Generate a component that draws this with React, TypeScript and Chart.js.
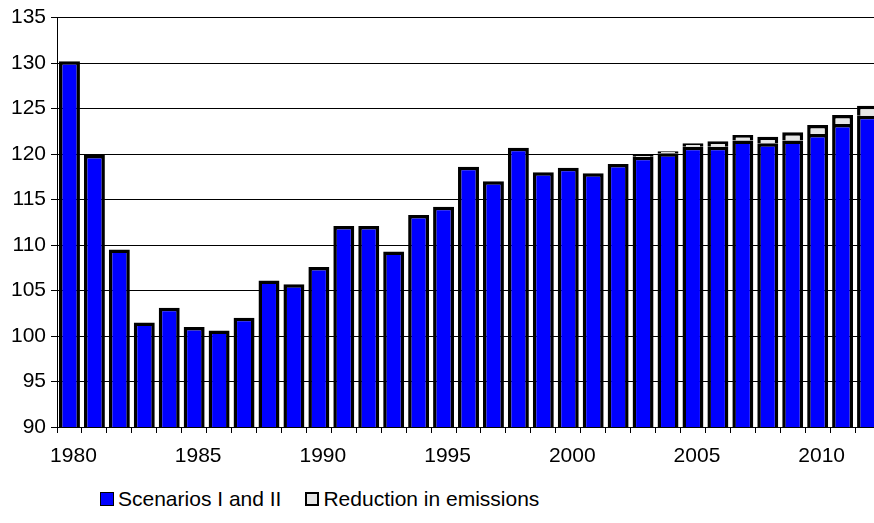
import React, { useEffect, useRef } from 'react';
import { Chart, registerables } from 'chart.js';

Chart.register(...registerables);

// Years on the category axis
const years = [
  '1980', '1981', '1982', '1983', '1984', '1985', '1986', '1987', '1988', '1989',
  '1990', '1991', '1992', '1993', '1994', '1995', '1996', '1997', '1998', '1999',
  '2000', '2001', '2002', '2003', '2004', '2005', '2006', '2007', '2008', '2009',
  '2010', '2011', '2012',
];

// Base series (blue bars)
const scenarioValues = [
  130.2, 119.9, 109.5, 101.5, 103.1, 101.0, 100.6, 102.0, 106.1, 105.7,
  107.6, 112.1, 112.1, 109.3, 113.3, 114.2, 118.6, 117.0, 120.7, 118.0,
  118.5, 117.9, 118.9, 119.7, 120.1, 120.8, 120.8, 121.5, 121.2, 121.5,
  122.2, 123.3, 124.2,
];

// Stacked on top of the base series (light grey caps)
const reductionValues = [
  0, 0, 0, 0, 0, 0, 0, 0, 0, 0,
  0, 0, 0, 0, 0, 0, 0, 0, 0, 0,
  0, 0, 0, 0.2, 0.2, 0.4, 0.6, 0.6, 0.7, 0.9,
  1.0, 1.0, 1.1,
];

const seriesNames = ['Scenarios I and II', 'Reduction in emissions'];
const yMin = 90;
const yMax = 135;
const yStep = 5;

const FONT = '"Liberation Sans", Arial, Helvetica, sans-serif';
const BLUE = '#0000ff';
const GREY = '#e6e6e6';
const BAR_BORDER = 3.5;

export default function App() {
  const canvasRef = useRef<HTMLCanvasElement>(null);

  useEffect(() => {
    if (!canvasRef.current) return;
    const chart = new Chart(canvasRef.current, {
      type: 'bar',
      data: {
        labels: years,
        datasets: [
          {
            label: seriesNames[0],
            data: scenarioValues,
            backgroundColor: BLUE,
            borderColor: '#000',
            borderWidth: BAR_BORDER,
            borderSkipped: false,
            barPercentage: 0.84,
            categoryPercentage: 1,
          },
          {
            label: seriesNames[1],
            data: reductionValues,
            backgroundColor: GREY,
            borderColor: '#000',
            borderWidth: BAR_BORDER,
            borderSkipped: 'bottom',
            barPercentage: 0.84,
            categoryPercentage: 1,
          },
        ],
      },
      options: {
        responsive: false,
        animation: false,
        devicePixelRatio: 1,
        layout: { padding: { top: 17, right: 4, left: 0, bottom: 0 } },
        plugins: {
          legend: { display: false },
          tooltip: { enabled: false },
        },
        scales: {
          x: {
            stacked: true,
            grid: {
              display: true,
              drawOnChartArea: false,
              drawTicks: true,
              tickLength: 6,
              color: '#000',
              offset: true,
            },
            border: { display: true, color: '#000', width: 1 },
            ticks: {
              autoSkip: false,
              maxRotation: 0,
              minRotation: 0,
              labelOffset: 4,
              padding: 11,
              color: '#000',
              font: { family: FONT, size: 21 },
              callback: (_v: any, i: number) => (Number(years[i]) % 5 === 0 ? years[i] : ''),
            },
            afterFit: (s: any) => {
              s.height = 43;
            },
          },
          y: {
            stacked: true,
            min: yMin,
            max: yMax,
            ticks: {
              stepSize: yStep,
              padding: 5,
              color: '#000',
              font: { family: FONT, size: 21 },
            },
            grid: { color: '#000', lineWidth: 1, tickLength: 6 },
            border: { display: true, color: '#000', width: 1 },
            afterFit: (s: any) => {
              s.width = 57;
            },
          },
        },
      },
    });
    return () => chart.destroy();
  }, []);

  const boxBase: React.CSSProperties = {
    display: 'inline-block',
    boxSizing: 'border-box',
    width: 14,
    height: 14,
  };

  return (
    <div
      style={{
        position: 'absolute',
        left: 0,
        top: 0,
        width: 874,
        height: 523,
        overflow: 'hidden',
        background: '#fff',
      }}
    >
      <canvas
        ref={canvasRef}
        width={884}
        height={470}
        style={{ position: 'absolute', left: 0, top: 0, width: 884, height: 470 }}
      />
      <div
        style={{
          position: 'absolute',
          left: 100,
          top: 487,
          height: 24,
          display: 'flex',
          alignItems: 'center',
          font: `21px ${FONT}`,
          color: '#000',
          whiteSpace: 'nowrap',
        }}
      >
        <span style={{ ...boxBase, background: BLUE, border: '1px solid #000' }} />
        <span style={{ marginLeft: 4 }}>{seriesNames[0]}</span>
        <span style={{ ...boxBase, marginLeft: 24, background: GREY, border: '2px solid #000' }} />
        <span style={{ marginLeft: 4 }}>{seriesNames[1]}</span>
      </div>
    </div>
  );
}
